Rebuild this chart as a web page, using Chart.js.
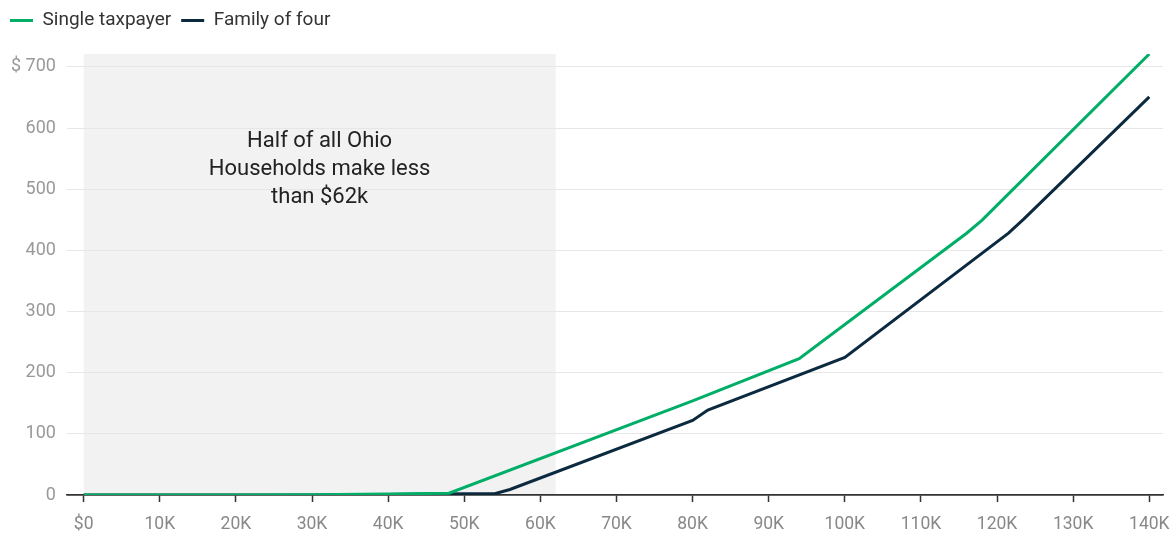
<!DOCTYPE html>
<html>
<head>
<meta charset="utf-8">
<script src="https://cdn.jsdelivr.net/npm/chart.js@4"></script>
<style>
  html, body { margin: 0; padding: 0; background: #fff; }
  #wrap { width: 1173px; height: 533px; }
</style>
</head>
<body>
<div id="wrap"><canvas id="lineChart"></canvas></div>
<script>
// Annual tax change by household income
const singleIncome = [0, 10000, 20000, 30000, 40000, 48000, 80000, 94000, 116000, 118000, 140000];
const singleTax    = [0, 0, 0, 0.5, 1.5, 3, 154, 223, 428, 449, 721];

const familyIncome = [0, 10000, 20000, 30000, 40000, 50000, 54000, 56000, 80000, 82000, 100000, 121500, 123500, 140000];
const familyTax    = [0, 0, 0, 0, 1, 2, 2, 9, 122, 139, 225, 428, 451, 651];

const xTickValues = [0, 10000, 20000, 30000, 40000, 50000, 60000, 70000, 80000, 90000, 100000, 110000, 120000, 130000, 140000];
const medianIncome = 62000;
const noteLines = ['Half of all Ohio', 'Households make less', 'than $62k'];

function toPoints(xs, ys) {
    return xs.map(function (x, i) { return { x: x, y: ys[i] }; });
}

// shaded band for households under the median, with a note
const medianBand = {
    id: 'medianBand',
    beforeDraw: function (chart) {
        var ctx = chart.ctx, x = chart.scales.x, y = chart.scales.y;
        var left = x.getPixelForValue(0), right = x.getPixelForValue(medianIncome);
        var top = y.getPixelForValue(y.max), bottom = y.getPixelForValue(0);
        ctx.save();
        ctx.fillStyle = '#f2f2f2';
        ctx.fillRect(left, top, right - left, bottom - top);
        ctx.restore();
    },
    afterDatasetsDraw: function (chart) {
        var ctx = chart.ctx, x = chart.scales.x;
        var cx = x.getPixelForValue(medianIncome / 2);
        var top = chart.chartArea.top;
        ctx.save();
        ctx.font = '22px Roboto';
        ctx.fillStyle = '#222';
        ctx.textAlign = 'center';
        ctx.textBaseline = 'middle';
        noteLines.forEach(function (line, i) {
            ctx.fillText(line, cx, top + 87 + i * 28);
        });
        ctx.restore();
    }
};

// a bit of room under the legend
const legendMargin = {
    id: 'legendMargin',
    beforeInit: function (chart) {
        var fit = chart.legend.fit;
        chart.legend.fit = function () {
            fit.bind(chart.legend)();
            this.height += 14;
        };
    }
};

function createLineChart() {
    var ctx = document.getElementById('lineChart').getContext('2d');
    new Chart(ctx, {
        type: 'line',
        data: {
            datasets: [{
                label: 'Single taxpayer',
                data: toPoints(singleIncome, singleTax),
                borderColor: '#00ae68',
                backgroundColor: '#00ae68',
                borderWidth: 3,
                pointRadius: 0,
                tension: 0
            }, {
                label: 'Family of four',
                data: toPoints(familyIncome, familyTax),
                borderColor: '#0c2a3f',
                backgroundColor: '#0c2a3f',
                borderWidth: 3,
                pointRadius: 0,
                tension: 0
            }]
        },
        options: {
            responsive: true,
            maintainAspectRatio: false,
            animation: false,
            layout: { padding: { left: 0, right: 10, top: 1, bottom: -14 } },
            plugins: {
                tooltip: { enabled: false },
                legend: {
                    position: 'top',
                    align: 'start',
                    labels: {
                        usePointStyle: true,
                        pointStyle: 'line',
                        pointStyleWidth: 23,
                        boxHeight: 10,
                        color: '#333',
                        font: { family: 'Roboto', size: 19 },
                        padding: 10
                    }
                }
            },
            scales: {
                x: {
                    type: 'linear',
                    min: -2200,
                    max: 141800,
                    afterBuildTicks: function (axis) {
                        axis.ticks = xTickValues.map(function (v) { return { value: v }; });
                    },
                    afterFit: function (axis) {
                        // labels may run past the ends, as in the original
                        axis.paddingLeft = 0;
                        axis.paddingRight = 0;
                    },
                    grid: {
                        drawOnChartArea: false,
                        drawTicks: true,
                        tickLength: 7,
                        tickColor: '#333',
                        tickWidth: 1.5
                    },
                    border: { display: true, color: '#333', width: 1.5 },
                    ticks: {
                        color: '#888',
                        font: { family: 'Roboto', size: 17.5 },
                        padding: 12,
                        maxRotation: 0,
                        autoSkip: false,
                        callback: function (v) { return v === 0 ? '$0' : (v / 1000) + 'K'; }
                    }
                },
                y: {
                    min: 0,
                    max: 721,
                    grid: {
                        drawTicks: false,
                        color: function (c) { return c.tick && c.tick.value === 0 ? '#333' : '#e6e6e6'; },
                        lineWidth: function (c) { return c.tick && c.tick.value === 0 ? 1.5 : 1; }
                    },
                    border: { display: false },
                    ticks: {
                        stepSize: 100,
                        includeBounds: false,
                        color: '#999',
                        font: { family: 'Roboto', size: 18 },
                        padding: 11,
                        callback: function (v) { return v === 700 ? '$ 700' : v; }
                    }
                }
            }
        },
        plugins: [medianBand, legendMargin]
    });
}

window.onload = createLineChart;
</script>
</body>
</html>
